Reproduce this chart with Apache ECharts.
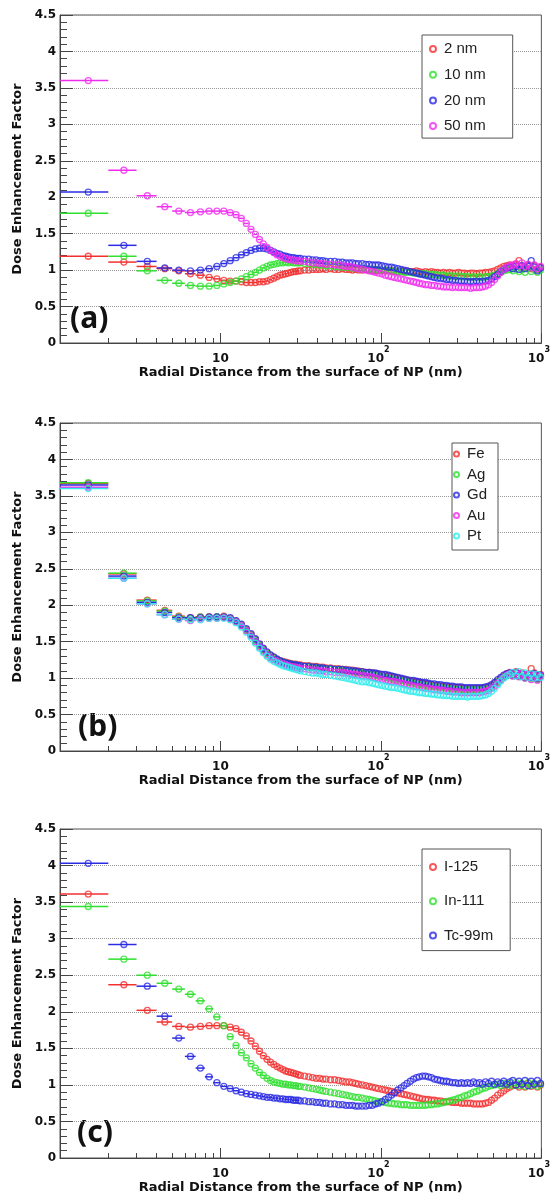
<!DOCTYPE html>
<html>
<head>
<meta charset="utf-8">
<script src="https://cdn.jsdelivr.net/npm/echarts@6/dist/echarts.min.js"></script>
<style>
html, body { margin: 0; padding: 0; background: #fff; }
#chart { width: 558px; height: 1195px; }
</style>
</head>
<body>
<div id="chart"></div>
<script>
// bin centres in nm (1 nm bins), shared by the three panels
const radius = [
    1.5, 2.5, 3.5, 4.5, 5.5, 6.5, 7.5, 8.5, 9.5, 10.5,
    11.5, 12.5, 13.5, 14.5, 15.5, 16.5, 17.5, 18.5, 19.5, 20.5,
    21.5, 22.5, 23.5, 24.5, 25.5, 26.5, 27.5, 28.5, 29.5, 30.5,
    31.5, 33.5, 35.5, 37.5, 39.5, 41.5, 43.5, 45.5, 48.5, 51.5,
    54.5, 57.5, 60.5, 63.5, 66.5, 69.5, 72.5, 76.5, 80.5, 84.5,
    88.5, 92.5, 96.5, 101.5, 106.5, 111.5, 116.5, 121.5, 127.5, 133.5,
    139.5, 145.5, 152.5, 159.5, 166.5, 173.5, 181.5, 189.5, 197.5, 206.5,
    215.5, 225.5, 235.5, 245.5, 256.5, 267.5, 279.5, 291.5, 304.5, 317.5,
    331.5, 346.5, 361.5, 377.5, 394.5, 411.5, 429.5, 448.5, 468.5, 489.5,
    511.5, 534.5, 558.5, 583.5, 609.5, 636.5, 664.5, 694.5, 725.5, 757.5,
    791.5, 827.5, 864.5, 903.5, 944.5, 987.5
];

// (a) NP size
const a_2nm = [
    1.19, 1.11, 1.05, 1.02, 0.99, 0.95, 0.93, 0.90, 0.88, 0.86,
    0.85, 0.85, 0.84, 0.83, 0.83, 0.83, 0.84, 0.84, 0.85, 0.87,
    0.89, 0.91, 0.93, 0.94, 0.95, 0.96, 0.97, 0.98, 0.98, 0.99,
    0.99, 1.00, 1.00, 1.01, 1.01, 1.01, 1.02, 1.01, 1.02, 1.01,
    1.01, 1.02, 1.01, 1.01, 1.00, 1.01, 1.00, 1.00, 1.01, 1.00,
    1.00, 0.99, 1.00, 0.99, 0.99, 1.00, 0.99, 0.99, 0.98, 0.99,
    0.98, 0.99, 0.98, 0.98, 0.99, 0.98, 0.97, 0.98, 0.97, 0.98,
    0.97, 0.97, 0.96, 0.97, 0.96, 0.97, 0.96, 0.96, 0.97, 0.96,
    0.96, 0.95, 0.96, 0.96, 0.95, 0.96, 0.96, 0.97, 0.97, 0.98,
    0.99, 1.01, 1.03, 1.05, 1.06, 1.07, 1.06, 1.08, 1.13, 1.05,
    1.04, 1.07, 1.02, 1.06, 1.01, 1.04
];
const a_10nm = [
    1.78, 1.19, 0.99, 0.86, 0.82, 0.79, 0.78, 0.78, 0.79, 0.81,
    0.83, 0.85, 0.88, 0.91, 0.94, 0.97, 1.00, 1.03, 1.05, 1.07,
    1.08, 1.09, 1.10, 1.10, 1.11, 1.10, 1.11, 1.10, 1.10, 1.10,
    1.10, 1.09, 1.09, 1.08, 1.08, 1.07, 1.07, 1.06, 1.06, 1.05,
    1.05, 1.04, 1.04, 1.04, 1.03, 1.03, 1.02, 1.02, 1.02, 1.01,
    1.01, 1.01, 1.00, 1.00, 1.00, 0.99, 0.99, 0.99, 0.98, 0.98,
    0.97, 0.97, 0.97, 0.96, 0.96, 0.95, 0.95, 0.95, 0.94, 0.94,
    0.94, 0.93, 0.93, 0.93, 0.92, 0.92, 0.92, 0.91, 0.92, 0.91,
    0.91, 0.91, 0.90, 0.91, 0.90, 0.91, 0.90, 0.91, 0.91, 0.92,
    0.93, 0.95, 0.97, 0.99, 1.00, 1.01, 0.99, 1.02, 0.98, 1.01,
    0.97, 1.02, 0.98, 1.01, 0.97, 1.00
];
const a_20nm = [
    2.07, 1.34, 1.12, 1.03, 1.00, 0.99, 1.00, 1.02, 1.05, 1.09,
    1.13, 1.17, 1.21, 1.24, 1.27, 1.29, 1.30, 1.30, 1.29, 1.27,
    1.25, 1.23, 1.22, 1.20, 1.19, 1.18, 1.17, 1.17, 1.16, 1.16,
    1.16, 1.15, 1.15, 1.14, 1.14, 1.13, 1.13, 1.12, 1.12, 1.12,
    1.11, 1.11, 1.10, 1.10, 1.10, 1.09, 1.09, 1.09, 1.08, 1.08,
    1.07, 1.07, 1.07, 1.06, 1.05, 1.04, 1.04, 1.03, 1.02, 1.01,
    1.00, 0.99, 0.98, 0.97, 0.96, 0.95, 0.94, 0.93, 0.92, 0.91,
    0.90, 0.89, 0.89, 0.88, 0.87, 0.87, 0.86, 0.86, 0.85, 0.85,
    0.85, 0.84, 0.84, 0.84, 0.85, 0.84, 0.85, 0.85, 0.86, 0.88,
    0.91, 0.94, 0.98, 1.01, 1.03, 1.04, 1.02, 1.05, 1.01, 1.06,
    1.02, 1.05, 1.13, 1.04, 0.99, 1.03
];
const a_50nm = [
    3.60, 2.37, 2.02, 1.87, 1.81, 1.79, 1.80, 1.81, 1.81, 1.81,
    1.79, 1.76, 1.71, 1.64, 1.56, 1.49, 1.42, 1.36, 1.31, 1.27,
    1.24, 1.21, 1.19, 1.17, 1.16, 1.15, 1.14, 1.14, 1.13, 1.13,
    1.12, 1.12, 1.11, 1.10, 1.10, 1.09, 1.09, 1.08, 1.08, 1.07,
    1.07, 1.06, 1.05, 1.05, 1.04, 1.03, 1.02, 1.01, 1.00, 0.99,
    0.98, 0.97, 0.96, 0.95, 0.93, 0.92, 0.91, 0.90, 0.89, 0.88,
    0.87, 0.86, 0.85, 0.84, 0.83, 0.82, 0.81, 0.80, 0.80, 0.79,
    0.79, 0.78, 0.78, 0.77, 0.77, 0.77, 0.76, 0.77, 0.76, 0.76,
    0.76, 0.76, 0.75, 0.76, 0.76, 0.76, 0.77, 0.78, 0.80, 0.83,
    0.87, 0.92, 0.97, 1.01, 1.04, 1.06, 1.07, 1.09, 1.06, 1.10,
    1.05, 1.08, 1.03, 1.07, 1.02, 1.05
];

// (b) NP material
const b_Fe = [
    3.67, 2.43, 2.07, 1.93, 1.85, 1.83, 1.84, 1.84, 1.84, 1.85,
    1.82, 1.78, 1.73, 1.67, 1.60, 1.53, 1.46, 1.40, 1.35, 1.31,
    1.28, 1.26, 1.24, 1.23, 1.22, 1.21, 1.20, 1.19, 1.19, 1.18,
    1.18, 1.17, 1.17, 1.16, 1.16, 1.15, 1.15, 1.14, 1.14, 1.13,
    1.13, 1.12, 1.12, 1.11, 1.11, 1.10, 1.10, 1.09, 1.08, 1.08,
    1.07, 1.06, 1.05, 1.05, 1.04, 1.03, 1.02, 1.01, 1.00, 0.99,
    0.98, 0.97, 0.96, 0.95, 0.95, 0.94, 0.93, 0.92, 0.92, 0.91,
    0.90, 0.90, 0.89, 0.89, 0.88, 0.88, 0.88, 0.87, 0.87, 0.87,
    0.86, 0.86, 0.86, 0.86, 0.86, 0.86, 0.86, 0.87, 0.88, 0.90,
    0.93, 0.96, 1.00, 1.03, 1.06, 1.08, 1.05, 1.09, 1.04, 1.07,
    1.02, 1.05, 1.13, 1.07, 0.99, 1.05
];
const b_Ag = [
    3.68, 2.44, 2.06, 1.92, 1.84, 1.82, 1.84, 1.83, 1.84, 1.84,
    1.82, 1.78, 1.72, 1.66, 1.59, 1.52, 1.45, 1.39, 1.34, 1.30,
    1.27, 1.25, 1.23, 1.22, 1.21, 1.20, 1.19, 1.18, 1.18, 1.17,
    1.16, 1.16, 1.15, 1.15, 1.14, 1.14, 1.13, 1.13, 1.12, 1.12,
    1.11, 1.11, 1.10, 1.10, 1.09, 1.08, 1.08, 1.07, 1.06, 1.06,
    1.05, 1.04, 1.03, 1.02, 1.01, 1.00, 0.99, 0.98, 0.97, 0.97,
    0.96, 0.95, 0.94, 0.93, 0.92, 0.91, 0.91, 0.90, 0.89, 0.89,
    0.88, 0.88, 0.87, 0.87, 0.86, 0.86, 0.85, 0.85, 0.85, 0.84,
    0.84, 0.84, 0.84, 0.84, 0.84, 0.84, 0.84, 0.85, 0.86, 0.88,
    0.91, 0.95, 0.98, 1.02, 1.04, 1.06, 1.03, 1.07, 1.02, 1.05,
    1.00, 1.04, 0.99, 1.03, 0.98, 1.02
];
const b_Gd = [
    3.65, 2.40, 2.04, 1.90, 1.83, 1.83, 1.83, 1.84, 1.84, 1.84,
    1.83, 1.79, 1.74, 1.68, 1.61, 1.54, 1.47, 1.41, 1.36, 1.32,
    1.29, 1.26, 1.24, 1.22, 1.21, 1.20, 1.19, 1.18, 1.18, 1.17,
    1.17, 1.16, 1.16, 1.15, 1.15, 1.14, 1.14, 1.13, 1.13, 1.12,
    1.12, 1.12, 1.11, 1.11, 1.10, 1.10, 1.09, 1.09, 1.08, 1.08,
    1.07, 1.07, 1.06, 1.05, 1.05, 1.04, 1.03, 1.02, 1.01, 1.00,
    0.99, 0.98, 0.97, 0.97, 0.96, 0.95, 0.94, 0.94, 0.93, 0.92,
    0.92, 0.91, 0.91, 0.90, 0.90, 0.89, 0.89, 0.88, 0.88, 0.88,
    0.87, 0.87, 0.87, 0.87, 0.87, 0.87, 0.87, 0.88, 0.89, 0.91,
    0.94, 0.98, 1.01, 1.04, 1.06, 1.07, 1.04, 1.08, 1.03, 1.06,
    1.01, 1.05, 1.01, 1.06, 1.00, 1.04
];
const b_Au = [
    3.62, 2.37, 2.02, 1.87, 1.81, 1.79, 1.81, 1.82, 1.82, 1.83,
    1.81, 1.77, 1.72, 1.65, 1.58, 1.50, 1.43, 1.37, 1.32, 1.28,
    1.25, 1.23, 1.21, 1.20, 1.18, 1.17, 1.16, 1.15, 1.15, 1.14,
    1.13, 1.13, 1.12, 1.11, 1.11, 1.10, 1.10, 1.09, 1.09, 1.08,
    1.08, 1.07, 1.07, 1.06, 1.05, 1.05, 1.04, 1.03, 1.03, 1.02,
    1.01, 1.00, 0.99, 0.98, 0.97, 0.96, 0.95, 0.95, 0.94, 0.93,
    0.92, 0.91, 0.90, 0.89, 0.88, 0.88, 0.87, 0.86, 0.86, 0.85,
    0.84, 0.84, 0.83, 0.83, 0.82, 0.82, 0.81, 0.81, 0.81, 0.80,
    0.80, 0.80, 0.80, 0.80, 0.80, 0.80, 0.81, 0.82, 0.83, 0.86,
    0.89, 0.93, 0.97, 1.01, 1.04, 1.06, 1.03, 1.08, 1.02, 1.06,
    1.00, 1.05, 0.98, 1.04, 0.97, 1.03
];
const b_Pt = [
    3.60, 2.37, 2.02, 1.87, 1.81, 1.80, 1.80, 1.82, 1.82, 1.82,
    1.80, 1.76, 1.70, 1.63, 1.56, 1.48, 1.41, 1.35, 1.30, 1.26,
    1.23, 1.21, 1.19, 1.17, 1.16, 1.15, 1.14, 1.13, 1.12, 1.11,
    1.10, 1.09, 1.08, 1.07, 1.07, 1.06, 1.05, 1.05, 1.04, 1.03,
    1.02, 1.01, 1.00, 0.99, 0.98, 0.97, 0.96, 0.95, 0.95, 0.94,
    0.93, 0.92, 0.91, 0.90, 0.89, 0.88, 0.87, 0.87, 0.86, 0.85,
    0.84, 0.83, 0.82, 0.82, 0.81, 0.80, 0.80, 0.79, 0.79, 0.78,
    0.78, 0.77, 0.77, 0.76, 0.76, 0.76, 0.75, 0.75, 0.75, 0.75,
    0.75, 0.74, 0.75, 0.75, 0.75, 0.75, 0.76, 0.77, 0.79, 0.82,
    0.86, 0.91, 0.96, 1.00, 1.03, 1.05, 1.08, 1.03, 1.09, 1.02,
    1.07, 1.01, 1.06, 1.00, 1.05, 1.01
];

// (c) radionuclide
const c_I125 = [
    3.61, 2.37, 2.02, 1.86, 1.80, 1.79, 1.80, 1.81, 1.81, 1.81,
    1.79, 1.77, 1.72, 1.67, 1.60, 1.53, 1.46, 1.40, 1.35, 1.31,
    1.28, 1.25, 1.23, 1.21, 1.19, 1.18, 1.17, 1.16, 1.15, 1.14,
    1.13, 1.12, 1.11, 1.10, 1.09, 1.09, 1.08, 1.08, 1.07, 1.07,
    1.06, 1.05, 1.04, 1.04, 1.03, 1.02, 1.01, 1.00, 0.99, 0.98,
    0.97, 0.96, 0.95, 0.94, 0.93, 0.92, 0.91, 0.90, 0.89, 0.88,
    0.87, 0.86, 0.85, 0.84, 0.83, 0.82, 0.81, 0.80, 0.80, 0.79,
    0.79, 0.78, 0.78, 0.77, 0.77, 0.77, 0.76, 0.76, 0.76, 0.75,
    0.75, 0.75, 0.75, 0.74, 0.74, 0.74, 0.74, 0.75, 0.76, 0.79,
    0.82, 0.86, 0.89, 0.92, 0.95, 0.97, 0.99, 1.00, 0.97, 1.01,
    0.97, 1.02, 0.98, 1.01, 0.97, 1.00
];
const c_In111 = [
    3.44, 2.72, 2.50, 2.39, 2.31, 2.24, 2.15, 2.04, 1.93, 1.81,
    1.66, 1.54, 1.44, 1.37, 1.29, 1.23, 1.17, 1.13, 1.09, 1.06,
    1.04, 1.03, 1.02, 1.01, 1.01, 1.00, 1.00, 0.99, 0.99, 0.98,
    0.98, 0.97, 0.96, 0.95, 0.94, 0.93, 0.92, 0.91, 0.90, 0.89,
    0.88, 0.87, 0.86, 0.85, 0.84, 0.83, 0.83, 0.82, 0.81, 0.80,
    0.79, 0.78, 0.77, 0.77, 0.76, 0.75, 0.75, 0.74, 0.74, 0.73,
    0.73, 0.73, 0.72, 0.72, 0.72, 0.72, 0.72, 0.72, 0.73, 0.73,
    0.74, 0.74, 0.75, 0.76, 0.77, 0.78, 0.79, 0.80, 0.82, 0.83,
    0.85, 0.86, 0.88, 0.90, 0.91, 0.93, 0.95, 0.96, 0.98, 0.99,
    1.00, 1.01, 0.99, 1.02, 1.00, 1.02, 0.99, 1.03, 0.99, 1.02,
    0.98, 1.03, 0.99, 1.02, 0.98, 1.01
];
const c_Tc99m = [
    4.03, 2.92, 2.35, 1.94, 1.64, 1.39, 1.23, 1.11, 1.03, 0.98,
    0.95, 0.92, 0.90, 0.88, 0.87, 0.86, 0.85, 0.84, 0.83, 0.83,
    0.82, 0.82, 0.81, 0.81, 0.80, 0.80, 0.80, 0.79, 0.79, 0.79,
    0.78, 0.78, 0.77, 0.77, 0.76, 0.76, 0.75, 0.75, 0.74, 0.74,
    0.73, 0.73, 0.72, 0.72, 0.72, 0.71, 0.71, 0.71, 0.71, 0.72,
    0.72, 0.74, 0.75, 0.77, 0.80, 0.83, 0.86, 0.89, 0.93, 0.96,
    0.99, 1.02, 1.05, 1.08, 1.10, 1.11, 1.12, 1.12, 1.11, 1.10,
    1.08, 1.07, 1.06, 1.05, 1.05, 1.04, 1.03, 1.03, 1.02, 1.03,
    1.02, 1.03, 1.02, 1.04, 1.02, 1.03, 1.01, 1.04, 1.02, 1.05,
    1.01, 1.04, 1.02, 1.05, 1.01, 1.04, 1.06, 1.00, 1.05, 1.01,
    1.06, 0.99, 1.05, 1.01, 1.06, 1.02
];

// log-axis secondary ticks
const minorTickValues = [2, 3, 4, 5, 6, 7, 8, 9, 20, 30, 40, 50, 60, 70, 80, 90, 200, 300, 400, 500, 600, 700, 800, 900];

const RED = '#f23030', GREEN = '#2fe02f', BLUE = '#2b2be4', MAGENTA = '#f02cf0', CYAN = '#2cecec';
const AXIS_COLOR = '#444';
const FONT = 'DejaVu Sans';

const panels = [
    {
        top: 15, height: 328, tag: '(a)', tagX: 70,
        series: [['2 nm', a_2nm, RED], ['10 nm', a_10nm, GREEN], ['20 nm', a_20nm, BLUE], ['50 nm', a_50nm, MAGENTA]],
        legend: { left: 422, top: 35, itemGap: 9.7, padding: [6, 27, 4, 7], size: 6 }
    },
    {
        top: 423, height: 328, tag: '(b)', tagX: 78,
        series: [['Fe', b_Fe, RED], ['Ag', b_Ag, GREEN], ['Gd', b_Gd, BLUE], ['Au', b_Au, MAGENTA], ['Pt', b_Pt, CYAN]],
        legend: { left: 452, top: 443, itemGap: 4.5, padding: [3, 11, 6, 1], size: 5 }
    },
    {
        top: 829, height: 329, tag: '(c)', tagX: 77,
        series: [['I-125', c_I125, RED], ['In-111', c_In111, GREEN], ['Tc-99m', c_Tc99m, BLUE]],
        legend: { left: 422, top: 849, itemGap: 18.3, padding: [10, 17, 7, 7], size: 6 }
    }
];

const grid = [], xAxis = [], yAxis = [], legend = [], series = [], graphic = [];

panels.forEach((p, g) => {
    grid.push({ left: 60, right: 16, top: p.top, height: p.height, show: true, borderColor: '#555', borderWidth: 1 });

    // main log axis with decade ticks
    xAxis.push({
        type: 'log', logBase: 10, min: 1, max: 1000, gridIndex: g, position: 'bottom',
        name: 'Radial Distance from the surface of NP (nm)', nameLocation: 'middle', nameGap: 22,
        nameTextStyle: { fontFamily: FONT, fontWeight: 'bold', fontSize: 13, color: '#111' },
        axisLine: { lineStyle: { color: AXIS_COLOR } },
        axisTick: { inside: true, length: 10, lineStyle: { color: AXIS_COLOR } },
        splitLine: { show: false },
        axisLabel: {
            margin: 3,
            formatter: (v) => {
                const e = Math.round(Math.log10(v));
                if (e === 0) return '';
                if (e === 1) return '{b|10}';
                return '{b|10}{s|' + e + '}';
            },
            rich: {
                b: { fontFamily: FONT, fontWeight: 'bold', fontSize: 12, color: '#111', lineHeight: 26 },
                s: { fontFamily: FONT, fontWeight: 'bold', fontSize: 8, color: '#111', lineHeight: 8, verticalAlign: 'top', padding: [0, 5, 0, 0] }
            }
        }
    });
    // companion axis in log10 space that only carries the secondary ticks
    xAxis.push({
        type: 'value', min: 0, max: 3, gridIndex: g, position: 'bottom',
        axisLine: { show: false },
        axisLabel: { show: false },
        splitLine: { show: false },
        axisTick: { show: true, inside: true, length: 5, lineStyle: { color: AXIS_COLOR }, customValues: minorTickValues.map(Math.log10) }
    });

    yAxis.push({
        type: 'value', min: 0, max: 4.5, interval: 0.5, gridIndex: g,
        name: 'Dose Enhancement Factor', nameLocation: 'middle', nameGap: 31,
        nameTextStyle: { fontFamily: FONT, fontWeight: 'bold', fontSize: 13, color: '#111' },
        axisLine: { show: true, lineStyle: { color: AXIS_COLOR } },
        axisTick: { show: true, inside: true, length: 13, lineStyle: { color: AXIS_COLOR } },
        minorTick: { show: true, splitNumber: 5, length: 7, lineStyle: { color: AXIS_COLOR } },
        splitLine: { show: true, lineStyle: { color: '#999', type: 'dotted', width: 1 } },
        axisLabel: { margin: 4, fontFamily: FONT, fontWeight: 'bold', fontSize: 12, color: '#111' }
    });

    legend.push({
        orient: 'vertical', left: p.legend.left, top: p.legend.top,
        data: p.series.map(s => s[0]),
        itemWidth: p.legend.size, itemHeight: p.legend.size, itemGap: p.legend.itemGap,
        padding: p.legend.padding, selectedMode: false,
        backgroundColor: '#fff', borderColor: '#555', borderWidth: 1, borderRadius: 0,
        textStyle: { fontFamily: 'Liberation Sans', fontSize: 15, lineHeight: 16, color: '#222', padding: [0, 0, 0, 3] }
    });

    p.series.forEach(([name, values, color]) => {
        const pts = radius.map((r, i) => [r, values[i]]);
        // horizontal bars: bin width
        series.push({
            type: 'custom', xAxisIndex: g * 2, yAxisIndex: g, silent: true,
            data: pts.slice(0, 30),
            renderItem: (params, api) => {
                const a = api.coord([api.value(0) - 0.5, api.value(1)]);
                const b = api.coord([api.value(0) + 0.5, api.value(1)]);
                return { type: 'line', shape: { x1: a[0], y1: a[1], x2: b[0], y2: b[1] }, style: { stroke: color, lineWidth: 1.5 } };
            }
        });
        series.push({
            name, type: 'scatter', xAxisIndex: g * 2, yAxisIndex: g, silent: true,
            symbol: 'circle', symbolSize: 6,
            itemStyle: { color: 'transparent', borderColor: color, borderWidth: 1.3 },
            data: pts
        });
    });

    graphic.push({
        type: 'text', x: p.tagX, y: p.top + 304,
        style: { text: p.tag, font: 'bold 30px "Noto Sans"', fill: '#111', verticalAlign: 'middle' }
    });
});

const chart = echarts.init(document.getElementById('chart'), null, { renderer: 'canvas' });
chart.setOption({
    animation: false,
    backgroundColor: '#fff',
    grid, xAxis, yAxis, legend, series, graphic
});
</script>
</body>
</html>
